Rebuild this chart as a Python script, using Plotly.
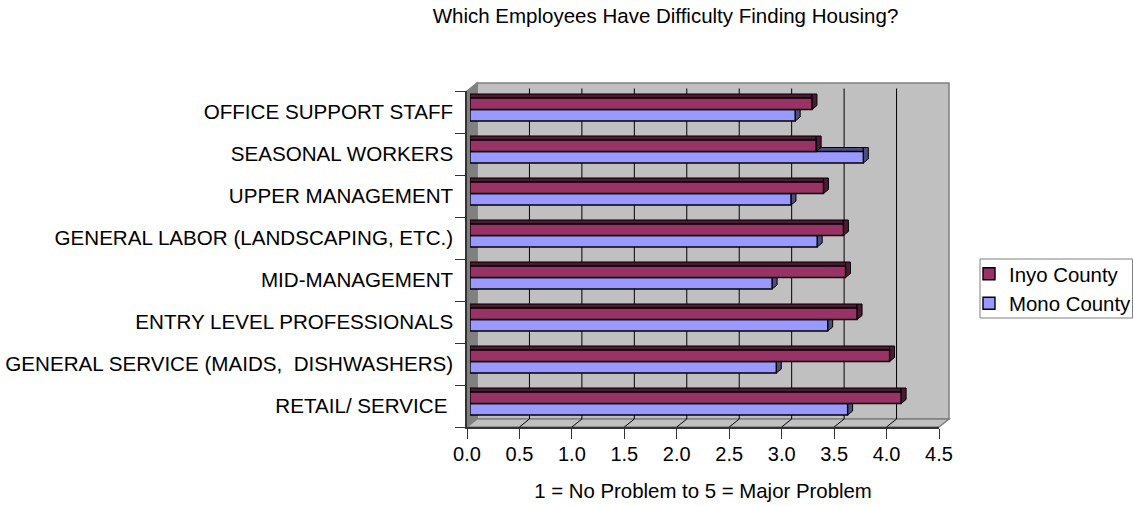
import plotly.graph_objects as go

CATEGORIES = ["RETAIL/ SERVICE\u00a0", "GENERAL SERVICE (MAIDS, \u00a0DISHWASHERS)",
              "ENTRY LEVEL PROFESSIONALS", "MID-MANAGEMENT",
              "GENERAL LABOR (LANDSCAPING, ETC.)", "UPPER MANAGEMENT",
              "SEASONAL WORKERS", "OFFICE SUPPORT STAFF"]
INYO = [4.11, 4.00, 3.69, 3.58, 3.56, 3.37, 3.30, 3.26]
MONO = [3.60, 2.92, 3.41, 2.88, 3.31, 3.06, 3.75, 3.10]
TICKS = [0.0, 0.5, 1.0, 1.5, 2.0, 2.5, 3.0, 3.5, 4.0, 4.5]
INYO_COLOR, INYO_DARK = "#993366", "#4D1A33"
MONO_COLOR, MONO_DARK = "#9999FF", "#4D4D80"
FONT = "Liberation Sans, Arial, sans-serif"
W, H = 1133, 506

def fx(p): return p / W
def fy(p): return 1 - p / H

X0, X1, Y0, Y1 = 467, 939, 91, 427   # front plane
GAP = 0.452
BW = (1 - GAP) / 2
BH = 11.5  # bar thickness in pixels

fig = go.Figure()
fig.add_trace(go.Bar(y=CATEGORIES, x=MONO, name="Mono County", orientation="h",
                     marker=dict(color=MONO_COLOR, line=dict(color="#000", width=1.4)),
                     xaxis="x2", yaxis="y2", legendrank=2))
fig.add_trace(go.Bar(y=CATEGORIES, x=INYO, name="Inyo County", orientation="h",
                     marker=dict(color=INYO_COLOR, line=dict(color="#000", width=1.4)),
                     xaxis="x2", yaxis="y2", legendrank=1))

def poly(pts, fill, line="#808080"):
    path = "M" + " L".join(f"{fx(a):.5f},{fy(b):.5f}" for a, b in pts) + " Z"
    return dict(type="path", path=path, xref="paper", yref="paper", fillcolor=fill,
                line=dict(color=line, width=1.5), layer="below")

shapes = [
    poly([(X0 + 10, Y0 - 8), (X1 + 10, Y0 - 8), (X1 + 10, Y1 - 8), (X0 + 10, Y1 - 8)], "#C0C0C0"),
    poly([(X0, Y0), (X0 + 10, Y0 - 8), (X0 + 10, Y1 - 8), (X0, Y1)], "#808080"),
    poly([(X0, Y1), (X0 + 10, Y1 - 8), (X1 + 10, Y1 - 8), (X1, Y1)], "#C0C0C0"),
    dict(type="rect", xref="paper", yref="paper", x0=fx(980), x1=fx(1132.5), y0=fy(318), y1=fy(259),
         fillcolor="white", line=dict(color="#808080", width=1), layer="below"),
]
for t in TICKS[1:-1]:
    # floor diagonal from the front tick
    shapes.append(dict(type="line", xref="x", xsizemode="pixel", xanchor=t, x0=0, x1=10,
                       yref="y", ysizemode="pixel", yanchor=-0.5, y0=0, y1=8,
                       line=dict(color="#000", width=1)))
    # back wall gridline (bar plane sits 3px right and 2.5px above the front plane)
    shapes.append(dict(type="line", xref="x2", xsizemode="pixel", xanchor=t, x0=7, x1=7,
                       yref="y2", ysizemode="pixel", yanchor=-0.5, y0=5.5, y1=341.5,
                       line=dict(color="#000", width=1), layer="below"))
# depth faces of the bars, anchored to the data values
for vals, base, fill in ((MONO, -BW, MONO_DARK), (INYO, 0.0, INYO_DARK)):
    for i, v in enumerate(vals):
        ya = i + base + BW
        shapes.append(dict(type="path", xref="x2", xsizemode="pixel", xanchor=0,
                           yref="y2", ysizemode="pixel", yanchor=ya,
                           path="M0,0 L4,4 L0,4 Z", fillcolor="#808080",
                           line=dict(width=0), layer="below"))
        shapes.append(dict(type="rect", xref="x2", x0=0, x1=v, yref="y2", ysizemode="pixel",
                           yanchor=ya, y0=0, y1=4, fillcolor=fill,
                           line=dict(color="#000", width=1), layer="below"))
        shapes.append(dict(type="path", xref="x2", xsizemode="pixel", xanchor=v,
                           yref="y2", ysizemode="pixel", yanchor=ya - BW,
                           path=f"M0,0 L5,4 L5,{BH + 4} L0,{BH + 4} Z", fillcolor=fill,
                           line=dict(color="#000", width=1), layer="below"))

hidden = dict(showticklabels=False, ticks="", showline=False, zeroline=False, showgrid=False)
fig.update_layout(
    width=W, height=H, autosize=False,
    margin=dict(l=0, r=0, t=0, b=0, autoexpand=False),
    paper_bgcolor="white", plot_bgcolor="rgba(0,0,0,0)",
    font=dict(family=FONT, size=20, color="#000"),
    barmode="group", bargap=GAP, bargroupgap=0,
    shapes=shapes,
    # visible front axes
    xaxis=dict(domain=[fx(X0), fx(X1)], range=[0, 4.5], anchor="y", tickmode="array",
               tickvals=TICKS, ticktext=[f"{t:.1f}" for t in TICKS], ticks="outside", ticklen=10,
               tickcolor="#333", showline=True, linecolor="#333", linewidth=1.5, showgrid=False,
               zeroline=False, tickfont=dict(size=20), ticklabelstandoff=-2,
               title=dict(text="1 = No Problem to 5 = Major Problem",
                          font=dict(size=20.4), standoff=20)),
    yaxis=dict(domain=[fy(Y1), fy(Y0)], range=[-0.5, 7.5], anchor="x", type="category",
               categoryorder="array", categoryarray=CATEGORIES, tickmode="linear", tick0=0, dtick=1,
               tickson="boundaries", ticks="outside", ticklen=10, tickcolor="#333", ticklabelstandoff=8,
               showline=True, linecolor="#333", linewidth=1.5, showgrid=False, zeroline=False,
               tickfont=dict(size=20.6)),
    # bars
    xaxis2=dict(domain=[fx(X0 + 3), fx(X1 + 3)], range=[0, 4.5], anchor="y2", **hidden),
    yaxis2=dict(domain=[fy(Y1 - 2.5), fy(Y0 - 2.5)], range=[-0.5, 7.5], anchor="x2",
                type="category", categoryorder="array", categoryarray=CATEGORIES, **hidden),
    title=dict(text="Which Employees Have Difficulty Finding Housing?", x=fx(665.5), xref="container",
               xanchor="center", y=fy(16), yref="container", yanchor="middle", font=dict(size=20.5)),
    legend=dict(x=fx(969), y=fy(254), xanchor="left", yanchor="top",
                bgcolor="rgba(0,0,0,0)", borderwidth=0, font=dict(size=20.4)),
)
fig.write_html("out.html", post_script="document.body.style.margin='0';",
               config=dict(displayModeBar=False))
